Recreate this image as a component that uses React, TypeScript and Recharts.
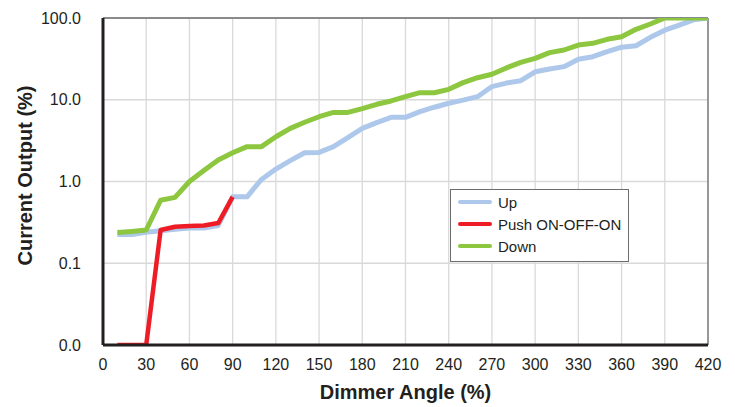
import React from "react";
import {
  CartesianGrid,
  Legend,
  Line,
  LineChart,
  ReferenceLine,
  XAxis,
  YAxis,
} from "recharts";

// dimmer angle (%) sampled every 10
const angles = [
  10, 20, 30, 40, 50, 60, 70, 80, 90, 100, 110, 120, 130, 140, 150, 160, 170,
  180, 190, 200, 210, 220, 230, 240, 250, 260, 270, 280, 290, 300, 310, 320,
  330, 340, 350, 360, 370, 380, 390, 400, 410, 420,
];

const upValues = [
  0.225, 0.225, 0.24, 0.25, 0.26, 0.27, 0.27, 0.29, 0.65, 0.65, 1.06, 1.42,
  1.8, 2.25, 2.27, 2.67, 3.44, 4.47, 5.25, 6.1, 6.1, 7.15, 8.1, 9.06, 9.9,
  10.9, 14.5, 16.0, 17.1, 22.0, 23.8, 25.4, 31.3, 33.6, 38.7, 43.9, 45.8, 58,
  71, 82, 95, 100,
];

// only measured up to 90
const pushValues = [0.01, 0.01, 0.01, 0.255, 0.28, 0.285, 0.29, 0.31, 0.65];

const downValues = [
  0.237, 0.245, 0.255, 0.59, 0.64, 1.0, 1.36, 1.83, 2.25, 2.67, 2.67, 3.53,
  4.47, 5.3, 6.2, 7.0, 7.0, 7.8, 8.8, 9.66, 10.9, 12.2, 12.2, 13.4, 16.2,
  18.6, 20.5, 24.5, 28.7, 32.1, 37.7, 40.6, 46.7, 49, 54.9, 59, 72.7, 84.5,
  100, 100, 100, 100,
];

const seriesNames = ["Up", "Push ON-OFF-ON", "Down"];

const xTicks = [0, 30, 60, 90, 120, 150, 180, 210, 240, 270, 300, 330, 360, 390, 420];
const yTicks = [0.01, 0.1, 1, 10, 100];

const data = angles.map((a, i) => ({
  angle: a,
  up: upValues[i],
  push: i < pushValues.length ? pushValues[i] : null,
  down: downValues[i],
}));

const FONT = "'Liberation Sans', Arial, sans-serif";
const INK = "#231f20";

function LegendBox(props: any) {
  const items = [...(props.payload || [])].sort(
    (a: any, b: any) => seriesNames.indexOf(a.value) - seriesNames.indexOf(b.value)
  );
  return (
    <div
      style={{
        border: "1px solid #6d6d6d",
        background: "#fff",
        width: 179,
        height: 73,
        boxSizing: "border-box",
        paddingTop: 1,
        fontFamily: FONT,
        fontSize: 15,
        color: INK,
      }}
    >
      {items.map((it: any) => (
        <div
          key={it.value}
          style={{ display: "flex", alignItems: "center", height: 22 }}
        >
          <span
            style={{
              display: "inline-block",
              marginLeft: 7,
              width: 34,
              height: 4,
              borderRadius: 2,
              background: it.color,
            }}
          />
          <span style={{ marginLeft: 6 }}>{it.value}</span>
        </div>
      ))}
    </div>
  );
}

export default function App() {
  return (
    <div style={{ position: "absolute", left: 0, top: 0, background: "#fff" }}>
      <LineChart
        width={735}
        height={407}
        data={data}
        margin={{ top: 18, right: 27, bottom: 0, left: 0 }}
      >
        <CartesianGrid stroke="#d9d9d9" strokeWidth={1.3} />
        <XAxis
          dataKey="angle"
          type="number"
          domain={[0, 420]}
          ticks={xTicks}
          interval={0}
          height={62}
          tickLine={false}
          tickMargin={8}
          axisLine={{ stroke: INK, strokeWidth: 3 }}
          tick={{ fill: INK, fontSize: 16, fontFamily: FONT }}
          label={{
            value: "Dimmer Angle (%)",
            position: "insideBottom",
            offset: 8,
            style: { fill: INK, fontSize: 20, fontWeight: "bold", fontFamily: FONT },
          }}
        />
        <YAxis
          scale="log"
          domain={[0.01, 100]}
          ticks={yTicks}
          interval={0}
          width={103}
          tickLine={false}
          tickMargin={16}
          allowDataOverflow
          axisLine={{ stroke: INK, strokeWidth: 3 }}
          tick={{ fill: INK, fontSize: 16, fontFamily: FONT }}
          tickFormatter={(v: number) => v.toFixed(1)}
          label={{
            value: "Current Output (%)",
            angle: -90,
            position: "insideLeft",
            offset: 25,
            dy: -6,
            style: {
              fill: INK,
              fontSize: 20,
              fontWeight: "bold",
              fontFamily: FONT,
              textAnchor: "middle",
            },
          }}
        />
        <ReferenceLine y={100} stroke="#6d6d6d" strokeWidth={1.3} />
        <ReferenceLine x={420} stroke="#6d6d6d" strokeWidth={1.3} />
        <Legend
          layout="vertical"
          align="center"
          verticalAlign="middle"
          content={<LegendBox />}
          wrapperStyle={{ left: 450, top: 189, width: 179 }}
        />
        <Line
          name="Up"
          dataKey="up"
          stroke="#adc8ea"
          strokeWidth={5}
          dot={false}
          activeDot={false}
          strokeLinejoin="round"
          isAnimationActive={false}
        />
        <Line
          name="Push ON-OFF-ON"
          dataKey="push"
          stroke="#ee1c25"
          strokeWidth={4.5}
          dot={false}
          activeDot={false}
          strokeLinejoin="round"
          isAnimationActive={false}
        />
        <Line
          name="Down"
          dataKey="down"
          stroke="#8dc63f"
          strokeWidth={5}
          dot={false}
          activeDot={false}
          strokeLinejoin="round"
          isAnimationActive={false}
        />
      </LineChart>
    </div>
  );
}
